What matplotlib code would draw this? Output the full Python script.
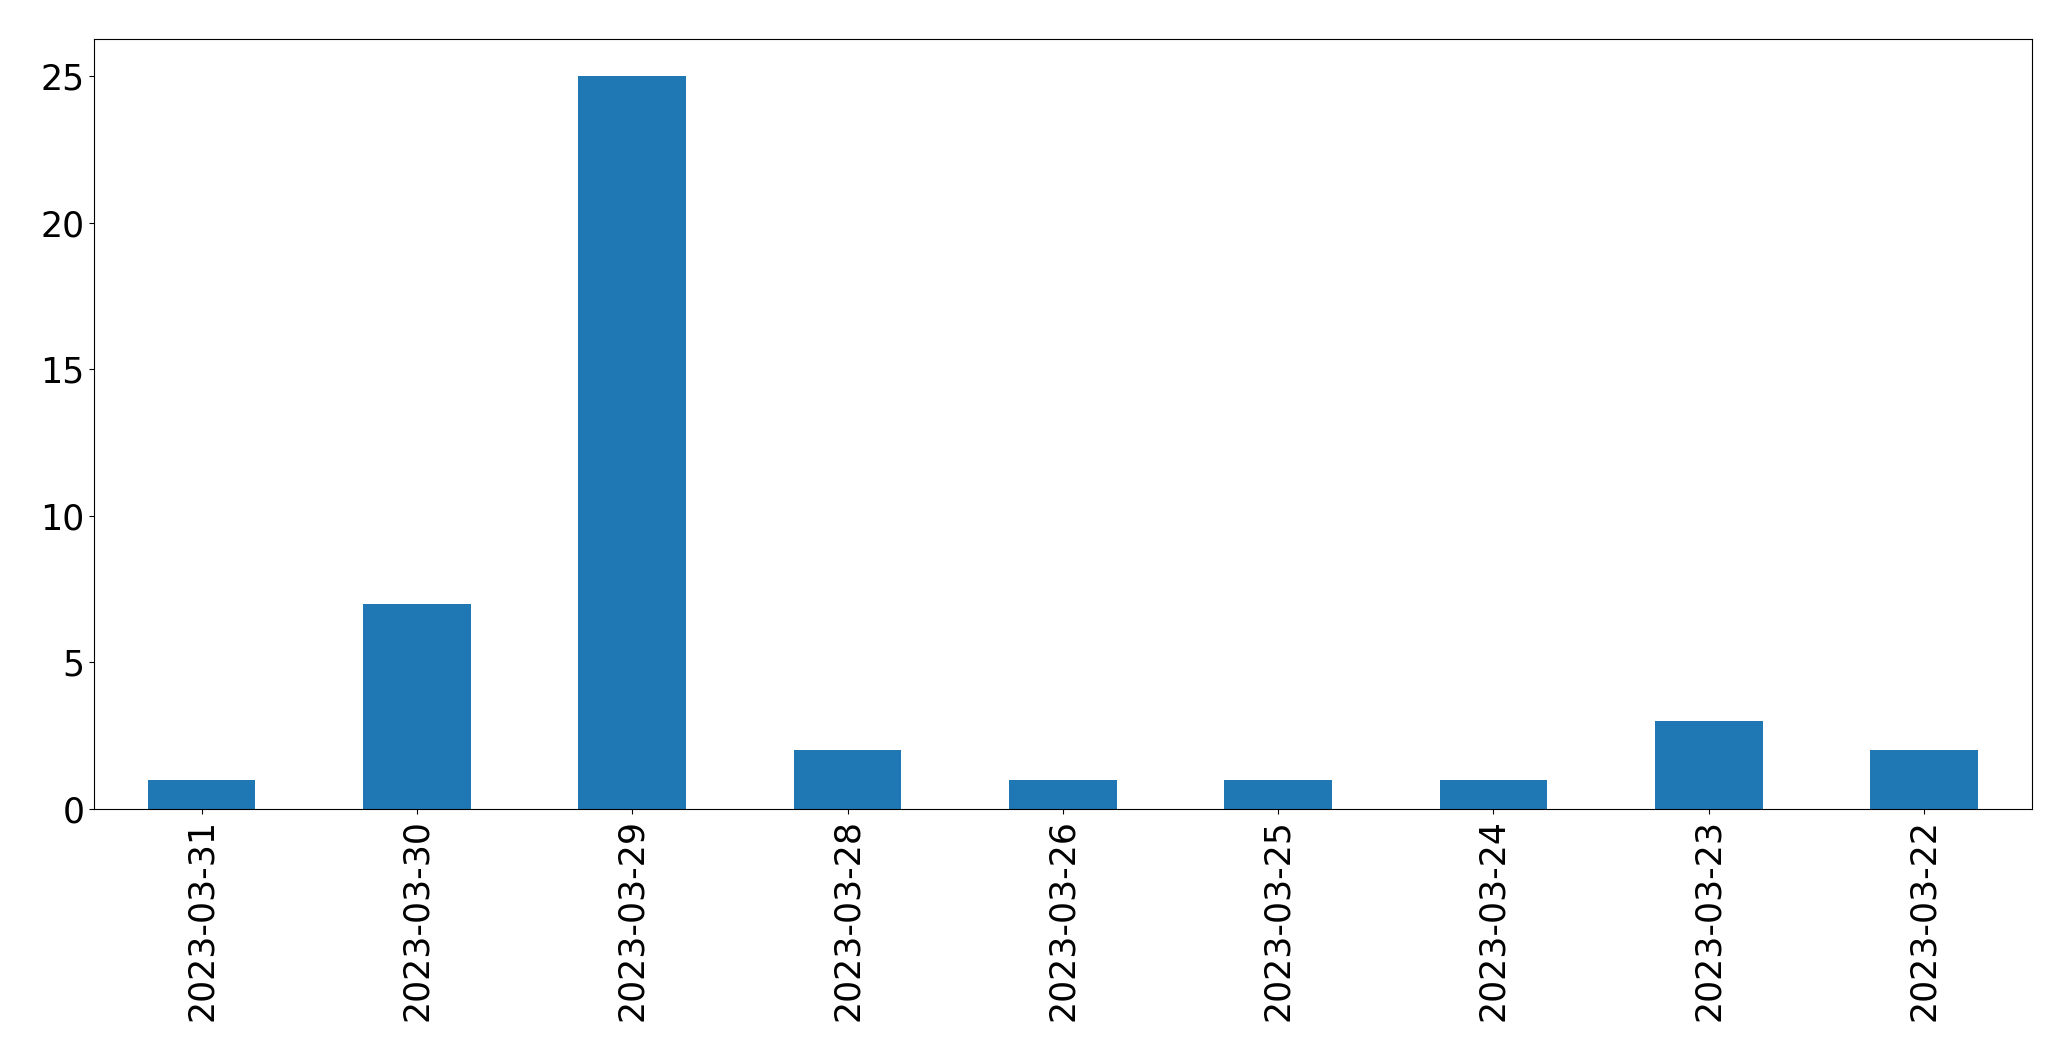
import numpy as np
import matplotlib
matplotlib.use("Agg")
import matplotlib.pyplot as plt

dates = ["2023-03-31", "2023-03-30", "2023-03-29", "2023-03-28", "2023-03-26",
         "2023-03-25", "2023-03-24", "2023-03-23", "2023-03-22"]
counts = [1, 7, 25, 2, 1, 1, 1, 3, 2]

plt.rcParams['font.size'] = 25

fig, ax = plt.subplots(figsize=(20.71, 10.61), dpi=100)
fig.subplots_adjust(left=0.0454, right=0.981, top=0.963, bottom=0.2375)

x = np.arange(len(dates))
ax.bar(x, counts, width=0.5, color="#1f77b4")
ax.set_xticks(x)
ax.set_xticklabels(dates, rotation=90)
ax.set_xlim(-0.5, len(dates) - 0.5)
ax.set_ylim(0, max(counts) * 1.05)
ax.set_yticks([0, 5, 10, 15, 20, 25])

fig.savefig("out.png", dpi=100)
